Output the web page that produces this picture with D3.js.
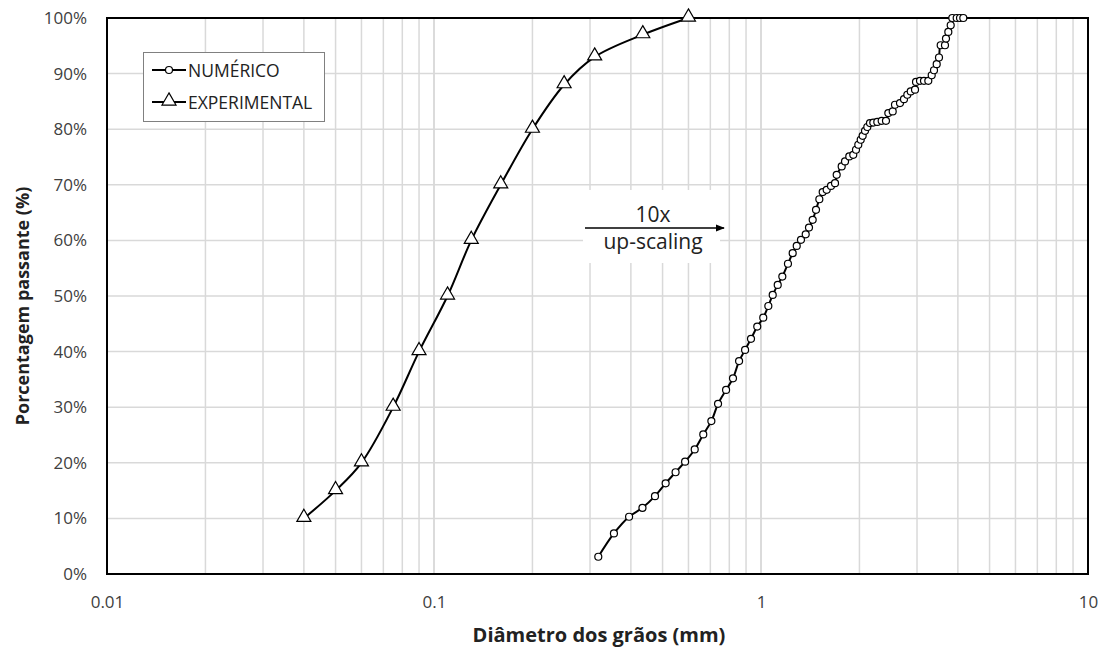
<!DOCTYPE html>
<html><head><meta charset="utf-8">
<script src="https://cdn.jsdelivr.net/npm/d3@7"></script>
<style>
body{margin:0;background:#fff;}
text{font-family:"Open Sans","Noto Sans",sans-serif;}
</style></head>
<body><svg id="c" width="1108" height="648"></svg>
<script>
// Data
const expDiam = [0.04,0.05,0.06,0.075,0.09,0.11,0.13,0.16,0.20,0.25,0.31,0.435,0.60];
const expPass = [10,15,20,30,40,50,60,70,80,88,93,97,100];
const numDiam = [0.318,0.355,0.395,0.434,0.474,0.511,0.548,0.586,0.627,0.666,0.705,0.739,0.782,0.821,
 0.857,0.894,0.932,0.974,1.016,1.053,1.086,1.125,1.162,1.209,1.250,1.286,1.325,1.370,1.402,1.439,1.473,1.508,1.544,1.588,1.637,1.684,
 1.704,1.765,1.807,1.862,1.915,1.952,1.984,2.018,2.046,2.080,2.114,2.154,2.205,2.268,2.339,2.411,2.451,2.528,2.569,2.661,2.737,2.802,2.870,2.958,
 2.979,3.064,3.151,3.248,3.327,3.381,3.446,3.502,3.544,3.653,3.679,3.740,3.803,3.846,3.967,4.061,4.156];
const numPass = [3.1,7.3,10.3,11.9,14.0,16.3,18.3,20.2,22.4,25.1,27.5,30.6,33.1,35.2,
 38.3,40.3,42.3,44.5,46.1,48.2,50.2,52.0,53.5,55.8,57.7,59.0,60.1,61.1,62.3,63.7,65.5,67.4,68.7,69.1,69.8,70.3,
 71.8,73.3,74.2,75.1,75.4,76.3,77.2,78.1,78.8,79.7,80.4,81.1,81.2,81.3,81.5,81.5,82.9,83.2,84.4,84.7,85.4,86.2,86.8,87.1,
 88.5,88.7,88.7,88.7,89.7,90.6,91.7,92.9,95.1,95.1,96.3,97.5,98.7,100,100,100,100];
const xTickVals = [0.01,0.1,1,10];
const xTickLabels = ["0.01","0.1","1","10"];
const yTickVals = [0,10,20,30,40,50,60,70,80,90,100];
const seriesNames = ["NUMÉRICO","EXPERIMENTAL"];
const xTitle = "Diâmetro dos grãos (mm)";
const yTitle = "Porcentagem passante (%)";
const annoTop = "10x", annoBottom = "up-scaling";

const svg = d3.select("#c");
const m = {l:107, r:20, t:18, b:74};
const W = 1108, H = 648;
const x = d3.scaleLog().domain([0.01,10]).range([m.l, W-m.r]);
const y = d3.scaleLinear().domain([0,100]).range([H-m.b, m.t]);

// grid
const minor = [];
[0.01,0.1,1].forEach(d=>{for(let k=1;k<=10;k++) minor.push(d*k);});
svg.append("g").selectAll("line").data(minor).join("line")
  .attr("x1",d=>x(d)).attr("x2",d=>x(d)).attr("y1",y(0)).attr("y2",y(100))
  .attr("stroke","#d9d9d9").attr("stroke-width",1.5);
svg.append("g").selectAll("line").data(yTickVals).join("line")
  .attr("x1",x(0.01)).attr("x2",x(10)).attr("y1",d=>y(d)).attr("y2",d=>y(d))
  .attr("stroke","#d9d9d9").attr("stroke-width",1.5);

// annotation white box
svg.append("rect").attr("x",583).attr("y",190).attr("width",137).attr("height",73).attr("fill","#fff");

// axes
const xAxis = d3.axisBottom(x).tickValues(xTickVals).tickFormat((d,i)=>xTickLabels[i]).tickSize(0).tickPadding(22);
const gx = svg.append("g").attr("transform",`translate(0,${y(0)})`).call(xAxis);
gx.select(".domain").remove();
gx.selectAll("text").attr("font-size",17).attr("fill","#404040").attr("font-family","'Open Sans',sans-serif");
const yAxis = d3.axisLeft(y).tickValues(yTickVals).tickFormat(d=>d+"%").tickSize(0).tickPadding(20);
const gy = svg.append("g").attr("transform",`translate(${x(0.01)},0)`).call(yAxis);
gy.select(".domain").remove();
gy.selectAll("text").attr("font-size",17).attr("fill","#404040").attr("font-family","'Open Sans',sans-serif");

// frame
svg.append("rect").attr("x",x(0.01)).attr("y",y(100)).attr("width",x(10)-x(0.01)).attr("height",y(0)-y(100))
  .attr("fill","none").attr("stroke","#000").attr("stroke-width",2);

// lines
const line = d3.line().x(d=>x(d[0])).y(d=>y(d[1])).curve(d3.curveCatmullRom.alpha(0.5));
const expData = expDiam.map((d,i)=>[d,expPass[i]]);
const numData = numDiam.map((d,i)=>[d,numPass[i]]);
svg.append("path").datum(expData).attr("d",line).attr("fill","none").attr("stroke","#000").attr("stroke-width",2);
svg.append("path").datum(numData).attr("d",line).attr("fill","none").attr("stroke","#000").attr("stroke-width",2);

const tri = d3.symbol().type(d3.symbolTriangle).size(85);
svg.append("g").selectAll("path").data(expData).join("path")
  .attr("d",tri).attr("transform",d=>`translate(${x(d[0])},${y(d[1])-1})`)
  .attr("fill","#fff").attr("stroke","#000").attr("stroke-width",1.2);
svg.append("g").selectAll("circle").data(numData).join("circle")
  .attr("cx",d=>x(d[0])).attr("cy",d=>y(d[1])).attr("r",3.5)
  .attr("fill","#fff").attr("stroke","#000").attr("stroke-width",1.2);

// annotation arrow
const defs = svg.append("defs");
defs.append("marker").attr("id","ah").attr("viewBox","0 0 10 10").attr("refX",9).attr("refY",5)
  .attr("markerWidth",6).attr("markerHeight",6).attr("orient","auto")
  .append("path").attr("d","M0,1 L10,5 L0,9 Z").attr("fill","#000");
svg.append("line").attr("x1",585).attr("x2",724).attr("y1",228).attr("y2",228)
  .attr("stroke","#000").attr("stroke-width",1.5).attr("marker-end","url(#ah)");
svg.append("text").attr("x",653).attr("y",222).attr("text-anchor","middle").attr("font-size",21).attr("fill","#222").text(annoTop);
svg.append("text").attr("x",653).attr("y",249).attr("text-anchor","middle").attr("font-size",21).attr("fill","#222").text(annoBottom);

// legend
const lg = svg.append("g");
lg.append("rect").attr("x",143.5).attr("y",52.5).attr("width",181).attr("height",69).attr("fill","#fff").attr("stroke","#808080").attr("stroke-width",1);
const lys = [70,102];
seriesNames.forEach((n,i)=>{
  lg.append("line").attr("x1",152).attr("x2",186).attr("y1",lys[i]).attr("y2",lys[i]).attr("stroke","#000").attr("stroke-width",2);
  if(i===0) lg.append("circle").attr("cx",169).attr("cy",lys[i]).attr("r",3.5).attr("fill","#fff").attr("stroke","#000").attr("stroke-width",1.2);
  else lg.append("path").attr("d",tri).attr("transform",`translate(169,${lys[i]-1})`).attr("fill","#fff").attr("stroke","#000").attr("stroke-width",1.2);
  lg.append("text").attr("x",188).attr("y",lys[i]+6.5).attr("font-size",17.5).attr("fill","#222").text(n);
});

// titles
svg.append("text").attr("x",599).attr("y",642).attr("text-anchor","middle").attr("font-size",20).attr("font-weight","bold").attr("fill","#222").text(xTitle);
svg.append("text").attr("transform",`translate(29,306) rotate(-90)`).attr("text-anchor","middle").attr("font-size",18).attr("font-weight","bold").attr("fill","#222").text(yTitle);
</script></body></html>
